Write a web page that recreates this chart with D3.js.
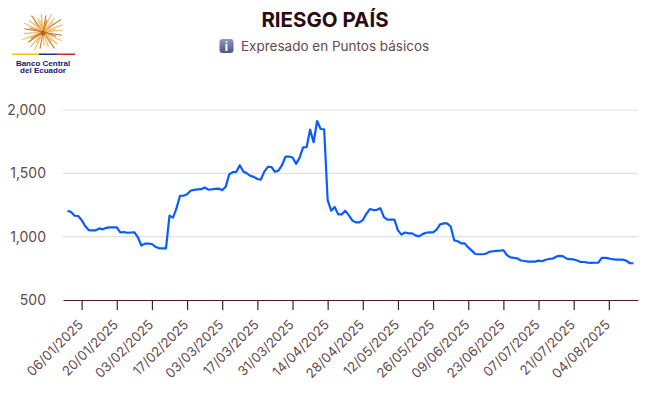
<!DOCTYPE html>
<html lang="es">
<head>
  <meta charset="UTF-8">
  <title>Riesgo País</title>
  <script src="https://d3js.org/d3.v7.min.js"></script>
  <style>
    * { margin: 0; padding: 0; box-sizing: border-box; }
    body { background: #fff; font-family: Inter, Arial, sans-serif; }
    svg { display: block; }
  </style>
</head>
<body>
  <div id="chart"></div>

  <script>
    const fechas = [
      "31/12/2024","01/01/2025","02/01/2025","03/01/2025",
      "06/01/2025","07/01/2025","08/01/2025","09/01/2025","10/01/2025",
      "13/01/2025","14/01/2025","15/01/2025","16/01/2025","17/01/2025",
      "20/01/2025","21/01/2025","22/01/2025","23/01/2025","24/01/2025",
      "27/01/2025","28/01/2025","29/01/2025","30/01/2025","31/01/2025",
      "03/02/2025","04/02/2025","05/02/2025","06/02/2025","07/02/2025",
      "10/02/2025","11/02/2025","12/02/2025","13/02/2025","14/02/2025",
      "17/02/2025","18/02/2025","19/02/2025","20/02/2025","21/02/2025",
      "24/02/2025","25/02/2025","26/02/2025","27/02/2025","28/02/2025",
      "03/03/2025","04/03/2025","05/03/2025","06/03/2025","07/03/2025",
      "10/03/2025","11/03/2025","12/03/2025","13/03/2025","14/03/2025",
      "17/03/2025","18/03/2025","19/03/2025","20/03/2025","21/03/2025",
      "24/03/2025","25/03/2025","26/03/2025","27/03/2025","28/03/2025",
      "31/03/2025","01/04/2025","02/04/2025","03/04/2025","04/04/2025",
      "07/04/2025","08/04/2025","09/04/2025","10/04/2025","11/04/2025",
      "14/04/2025","15/04/2025","16/04/2025","17/04/2025","18/04/2025",
      "21/04/2025","22/04/2025","23/04/2025","24/04/2025","25/04/2025",
      "28/04/2025","29/04/2025","30/04/2025","01/05/2025","02/05/2025",
      "05/05/2025","06/05/2025","07/05/2025","08/05/2025","09/05/2025",
      "12/05/2025","13/05/2025","14/05/2025","15/05/2025","16/05/2025",
      "19/05/2025","20/05/2025","21/05/2025","22/05/2025","23/05/2025",
      "26/05/2025","27/05/2025","28/05/2025","29/05/2025","30/05/2025",
      "02/06/2025","03/06/2025","04/06/2025","05/06/2025","06/06/2025",
      "09/06/2025","10/06/2025","11/06/2025","12/06/2025","13/06/2025",
      "16/06/2025","17/06/2025","18/06/2025","19/06/2025","20/06/2025",
      "23/06/2025","24/06/2025","25/06/2025","26/06/2025","27/06/2025",
      "30/06/2025","01/07/2025","02/07/2025","03/07/2025","04/07/2025",
      "07/07/2025","08/07/2025","09/07/2025","10/07/2025","11/07/2025",
      "14/07/2025","15/07/2025","16/07/2025","17/07/2025","18/07/2025",
      "21/07/2025","22/07/2025","23/07/2025","24/07/2025","25/07/2025",
      "28/07/2025","29/07/2025","30/07/2025","31/07/2025","01/08/2025",
      "04/08/2025","05/08/2025","06/08/2025","07/08/2025","08/08/2025",
      "11/08/2025","12/08/2025","13/08/2025"
    ];

    // puntos basicos
    const riesgo = [
      1205,1194,1165,1163,
      1131,1084,1052,1050,1050,
      1065,1058,1070,1073,1073,
      1073,1033,1037,1031,1033,
      1035,995,930,945,945,
      942,920,908,908,908,
      1166,1150,1225,1323,1323,
      1335,1362,1370,1373,1375,
      1388,1372,1373,1378,1380,
      1367,1395,1493,1509,1512,
      1564,1515,1500,1480,1472,
      1455,1450,1515,1551,1550,
      1512,1522,1564,1632,1633,
      1625,1575,1622,1705,1706,
      1845,1745,1913,1850,1848,
      1289,1205,1234,1176,1176,
      1205,1170,1128,1113,1113,
      1131,1180,1218,1210,1212,
      1225,1155,1135,1134,1135,
      1050,1016,1033,1026,1026,
      1010,1002,1020,1031,1034,
      1034,1055,1097,1105,1105,
      1080,971,964,947,947,
      915,890,863,861,861,
      865,880,885,888,890,
      893,855,836,832,828,
      812,808,803,803,803,
      811,806,818,824,826,
      842,848,845,827,822,
      820,812,800,800,795,
      793,794,795,832,832,
      828,822,819,819,819,
      810,790,790
    ];

    const etiquetasX = [
      "06/01/2025","20/01/2025","03/02/2025","17/02/2025","03/03/2025","17/03/2025",
      "31/03/2025","14/04/2025","28/04/2025","12/05/2025","26/05/2025","09/06/2025",
      "23/06/2025","07/07/2025","21/07/2025","04/08/2025"
    ];
    const ticksY = [500, 1000, 1500, 2000];

    const width = 650, height = 396;
    const margin = {top: 110, right: 12, bottom: 96, left: 63};
    const colorTexto = "#654a4e";
    const colorEje = "#4a1f1f";

    const svg = d3.select("#chart").append("svg")
      .attr("width", width)
      .attr("height", height);

    const x = d3.scalePoint()
      .domain(fechas)
      .range([margin.left, width - margin.right])
      .padding(1.3);

    const y = d3.scaleLinear()
      .domain([500, 2000])
      .range([height - margin.bottom, margin.top]);

    // titulo
    svg.append("text")
      .attr("x", 325).attr("y", 27)
      .attr("text-anchor", "middle")
      .style("font-size", "20.5px")
      .style("font-weight", "700")
      .style("fill", "#2c0b0e")
      .text("RIESGO PAÍS");

    // icono de informacion
    const defs = svg.append("defs");
    const grad = defs.append("linearGradient").attr("id", "info").attr("x1", 0).attr("x2", 0).attr("y1", 0).attr("y2", 1);
    grad.append("stop").attr("offset", "0%").attr("stop-color", "#8f99c4");
    grad.append("stop").attr("offset", "100%").attr("stop-color", "#4d5683");

    svg.append("rect")
      .attr("x", 219.5).attr("y", 39).attr("width", 14).attr("height", 14).attr("rx", 3)
      .attr("fill", "url(#info)");
    svg.append("text")
      .attr("x", 226.5).attr("y", 50.5)
      .attr("text-anchor", "middle")
      .style("font-size", "12px")
      .style("font-weight", "700")
      .style("fill", "#fff")
      .text("i");

    svg.append("text")
      .attr("x", 241).attr("y", 51)
      .style("font-size", "13.5px")
      .style("fill", colorTexto)
      .text("Expresado en Puntos básicos");

    // logo del banco
    const logo = svg.append("g").attr("class", "logo");
    const rayos = [
      [-170,19],[-155,21],[-140,18],[-125,20],[-110,15],[-95,18],[-80,17],[-65,20],[-50,18],[-35,22],
      [-20,21],[-5,20],[10,19],[25,21],[40,19],[55,20],[70,16],[85,14],[100,17],[115,20],[130,20],[145,18],
      [160,22],[175,19],[-162,14],[-132,13],[-102,12],[-72,13],[-42,14],[-12,13],[18,14],[48,13],[122,13],[152,14]
    ];
    logo.selectAll("line")
      .data(rayos)
      .enter()
      .append("line")
      .attr("x1", 43).attr("y1", 32)
      .attr("x2", d => 43 + d[1] * Math.cos(d[0] * Math.PI / 180))
      .attr("y2", d => 32 + d[1] * Math.sin(d[0] * Math.PI / 180))
      .attr("stroke", (d, i) => i % 3 === 0 ? "#c8761f" : "#f0b860")
      .attr("stroke-width", 1.1);
    logo.append("circle").attr("cx", 43).attr("cy", 33).attr("r", 2.5).attr("fill", "#b0641e");

    logo.append("rect").attr("x", 12).attr("y", 53.5).attr("width", 27).attr("height", 1.5).attr("fill", "#f2c21a");
    logo.append("rect").attr("x", 39).attr("y", 53.5).attr("width", 18).attr("height", 1.5).attr("fill", "#1f2f8f");
    logo.append("rect").attr("x", 57).attr("y", 53.5).attr("width", 18).attr("height", 1.5).attr("fill", "#d8232a");

    logo.selectAll(".logo-texto")
      .data(["Banco Central", "del Ecuador"])
      .enter()
      .append("text")
      .attr("class", "logo-texto")
      .attr("x", 43)
      .attr("y", (d, i) => 65.5 + i * 7.5)
      .attr("text-anchor", "middle")
      .style("font-family", "Arial, 'Liberation Sans', sans-serif")
      .style("font-size", "8px")
      .style("font-weight", "700")
      .style("fill", "#14206b")
      .text(d => d);

    // lineas de la grilla
    svg.append("g")
      .selectAll("line")
      .data(ticksY.filter(d => d > 500))
      .enter()
      .append("line")
      .attr("x1", margin.left)
      .attr("x2", width - margin.right)
      .attr("y1", d => y(d))
      .attr("y2", d => y(d))
      .attr("stroke", "#dfdfe6")
      .attr("stroke-width", 1.2);

    // eje y
    const ejeY = svg.append("g")
      .attr("transform", `translate(${margin.left},0)`)
      .call(d3.axisLeft(y).tickValues(ticksY).tickFormat(d3.format(",")).tickSize(0).tickPadding(17));
    ejeY.select(".domain").remove();
    ejeY.selectAll("text")
      .style("font-family", "Inter, Arial, sans-serif")
      .style("font-size", "14px")
      .style("fill", colorTexto);

    // eje x
    const ejeX = svg.append("g")
      .attr("transform", `translate(0,${height - margin.bottom})`)
      .call(d3.axisBottom(x).tickValues(etiquetasX).tickSize(10).tickSizeOuter(0).tickPadding(6));
    ejeX.selectAll("path, line")
      .attr("stroke", colorEje)
      .attr("stroke-width", 1.2);
    ejeX.selectAll("text")
      .attr("text-anchor", "end")
      .attr("dx", "-5.5px")
      .attr("dy", "0.6em")
      .attr("transform", function() {
        return `rotate(-45 0 ${d3.select(this).attr("y")})`;
      })
      .style("font-family", "Inter, Arial, sans-serif")
      .style("font-size", "13.3px")
      .style("fill", colorTexto);

    // serie
    const linea = d3.line()
      .x((d, i) => x(fechas[i]))
      .y(d => y(d));

    svg.append("path")
      .datum(riesgo)
      .attr("fill", "none")
      .attr("stroke", "#0a5cff")
      .attr("stroke-width", 2.2)
      .attr("stroke-linejoin", "round")
      .attr("d", linea);
  </script>
</body>
</html>
